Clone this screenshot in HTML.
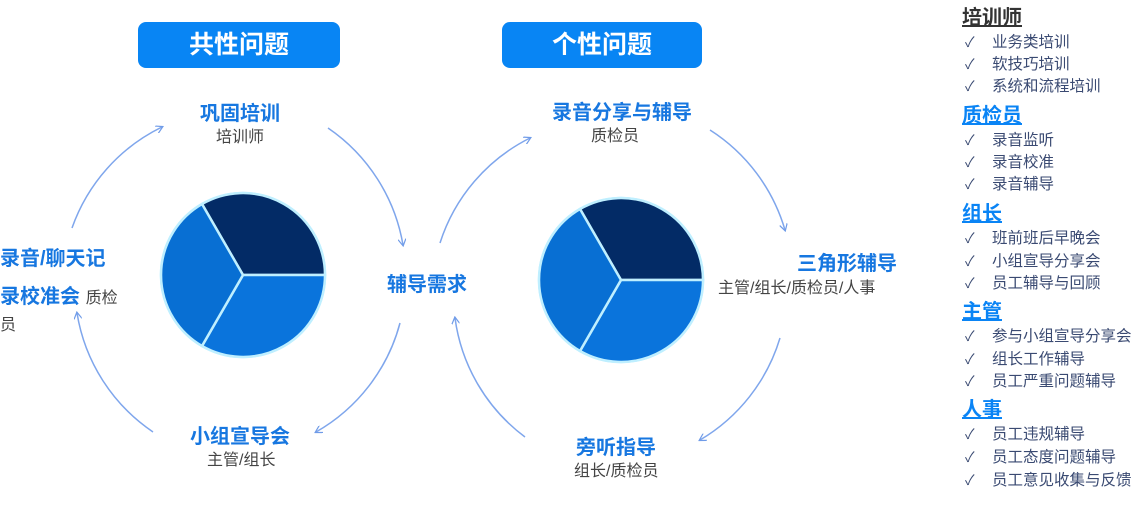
<!DOCTYPE html>
<html><head><meta charset="utf-8"><style>
body{margin:0;width:1147px;height:521px;background:#fff;position:relative;overflow:hidden;font-family:"Liberation Sans","Noto Sans CJK SC",sans-serif}
.t{position:absolute;white-space:nowrap;line-height:1}
.b{color:#1777e0;font-weight:bold;font-size:20px}
.g{color:#444;font-size:16px}
.box{position:absolute;top:22px;height:46px;background:#0885f4;border-radius:8px;color:#fff;font-weight:bold;font-size:25px;text-align:center;line-height:46px}
.h{position:absolute;left:962px;font-weight:bold;font-size:20px;text-decoration:underline;line-height:1;color:#0a84f5}
.i{position:absolute;left:965px;font-size:15.5px;color:#3a4a72;line-height:1;white-space:nowrap}
.i span{display:inline-block;width:27px;font-size:14px}
</style></head><body>
<svg width="1147" height="521" style="position:absolute;left:0;top:0">
<defs><marker id="a" markerWidth="8" markerHeight="8" refX="6" refY="4" orient="auto" markerUnits="userSpaceOnUse"><path d="M0,0 L7,4 L0,8" fill="none" stroke="#6f9be8" stroke-width="1.2"/></marker></defs>
<g fill="none" stroke="#7fa6ec" stroke-width="1.5" marker-end="url(#a)">
<path d="M72,228 A178,178 0 0 1 162,127"/>
<path d="M328,128 A178,178 0 0 1 403,245"/>
<path d="M400,323 A178,178 0 0 1 316,432"/>
<path d="M153,432 A178,178 0 0 1 77,313"/>
<path d="M440,243 A178,178 0 0 1 530,138"/>
<path d="M710,130 A178,178 0 0 1 785,230"/>
<path d="M780,338 A178,178 0 0 1 700,440"/>
<path d="M525,437 A178,178 0 0 1 455,318"/>
</g>
<g stroke="#bfefff" stroke-width="2.5">
<circle cx="243" cy="275" r="82" fill="#0a72d8"/>
<path d="M243,275 L202,204 A82,82 0 0 1 325,275 Z" fill="#032b66"/>
<path d="M243,275 L325,275 A82,82 0 0 1 202,346 Z" fill="#0a74dc"/>
<path d="M243,275 L202,346 A82,82 0 0 1 202,204 Z" fill="#086fd3"/>
<circle cx="621" cy="280" r="82" fill="#0a72d8"/>
<path d="M621,280 L580,209 A82,82 0 0 1 703,280 Z" fill="#032b66"/>
<path d="M621,280 L703,280 A82,82 0 0 1 580,351 Z" fill="#0a74dc"/>
<path d="M621,280 L580,351 A82,82 0 0 1 580,209 Z" fill="#086fd3"/>
</g>
</svg>
<div class="box" style="left:138px;width:202px">共性问题</div>
<div class="box" style="left:502px;width:200px">个性问题</div>
<div class="t b" style="left:200px;top:104px">巩固培训</div>
<div class="t g" style="left:216px;top:130px">培训师</div>
<div class="t b" style="left:0;top:249px">录音/聊天记</div>
<div class="t b" style="left:0;top:287px">录校准会 <span class="g" style="font-weight:normal">质检</span></div>
<div class="t g" style="left:0;top:318px">员</div>
<div class="t b" style="left:387px;top:275px">辅导需求</div>
<div class="t b" style="left:190px;top:427px">小组宣导会</div>
<div class="t g" style="left:207px;top:453px">主管/组长</div>
<div class="t b" style="left:552px;top:103px">录音分享与辅导</div>
<div class="t g" style="left:591px;top:129px">质检员</div>
<div class="t b" style="left:797px;top:254px">三角形辅导</div>
<div class="t g" style="left:718px;top:281px">主管/组长/质检员/人事</div>
<div class="t b" style="left:576px;top:438px">旁听指导</div>
<div class="t g" style="left:574px;top:464px">组长/质检员</div>
<div class="h" style="top:8px;color:#333">培训师</div>
<div class="i" style="top:35px"><span>✓</span>业务类培训</div>
<div class="i" style="top:57px"><span>✓</span>软技巧培训</div>
<div class="i" style="top:79px"><span>✓</span>系统和流程培训</div>
<div class="h" style="top:106px">质检员</div>
<div class="i" style="top:133px"><span>✓</span>录音监听</div>
<div class="i" style="top:155px"><span>✓</span>录音校准</div>
<div class="i" style="top:177px"><span>✓</span>录音辅导</div>
<div class="h" style="top:204px">组长</div>
<div class="i" style="top:231px"><span>✓</span>班前班后早晚会</div>
<div class="i" style="top:254px"><span>✓</span>小组宣导分享会</div>
<div class="i" style="top:276px"><span>✓</span>员工辅导与回顾</div>
<div class="h" style="top:302px">主管</div>
<div class="i" style="top:329px"><span>✓</span>参与小组宣导分享会</div>
<div class="i" style="top:352px"><span>✓</span>组长工作辅导</div>
<div class="i" style="top:374px"><span>✓</span>员工严重问题辅导</div>
<div class="h" style="top:400px">人事</div>
<div class="i" style="top:427px"><span>✓</span>员工违规辅导</div>
<div class="i" style="top:450px"><span>✓</span>员工态度问题辅导</div>
<div class="i" style="top:473px"><span>✓</span>员工意见收集与反馈</div>
</body></html>
